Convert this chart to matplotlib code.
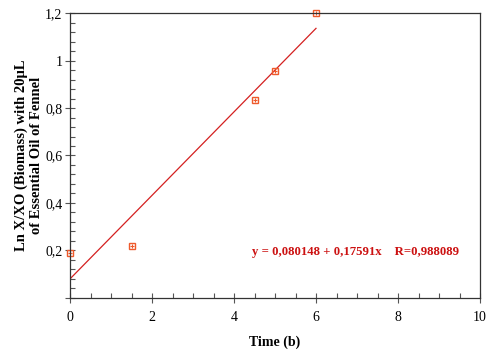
import numpy as np
import matplotlib.pyplot as plt
from matplotlib.ticker import MultipleLocator, FuncFormatter

plt.rcParams['font.family'] = ['Liberation Serif', 'DejaVu Serif']

time = [0, 1.5, 4.5, 5, 6]
ln_ratio = [0.19, 0.218, 0.833, 0.957, 1.2]
intercept = 0.080148
slope = 0.17591
fit_x = np.array([0, 6])

fig = plt.figure(figsize=(5, 3.53), dpi=100)
ax = fig.add_axes([0.14, 0.156, 0.82, 0.807])

ax.plot(fit_x, intercept + slope * fit_x, color='#d42020', linewidth=0.9)
ax.plot(time, ln_ratio, linestyle='none', marker='s', markersize=4.5,
        markerfacecolor='none', markeredgecolor='#ee5a2c', markeredgewidth=1.0, clip_on=False)
ax.plot(time, ln_ratio, linestyle='none', marker='+', markersize=3.5,
        markeredgecolor='#ee5a2c', markeredgewidth=0.8, clip_on=False)

ax.set_xlim(0, 10)
ax.set_ylim(0, 1.2)
ax.xaxis.set_major_locator(MultipleLocator(2))
ax.xaxis.set_minor_locator(MultipleLocator(0.5))
ax.yaxis.set_major_locator(MultipleLocator(0.2))
ax.yaxis.set_minor_locator(MultipleLocator(0.04))

def comma(v, pos):
    return ('%g' % round(v, 2)).replace('.', ',')

ax.xaxis.set_major_formatter(FuncFormatter(comma))
ax.yaxis.set_major_formatter(FuncFormatter(lambda v, p: '' if abs(v) < 1e-9 else comma(v, p)))

ax.tick_params(which='major', direction='inout', length=7, width=0.8, color='#555555',
               labelsize=10)
ax.tick_params(axis='x', which='major', pad=6)
ax.tick_params(axis='y', which='major', pad=2)
ax.tick_params(which='minor', direction='in', length=3.5, width=0.8, color='#555555')
ax.tick_params(top=False, right=False, which='both')
for side in ax.spines:
    ax.spines[side].set_color('#333333')
    ax.spines[side].set_linewidth(0.9)

ax.set_xlabel('Time (b)', fontsize=10, fontweight='bold', labelpad=8)
ax.set_ylabel('Ln X/XO (Biomass) with 20\u03bcL\nof Essential Oil of Fennel',
              fontsize=10.5, fontweight='bold', linespacing=1.15)
ax.yaxis.set_label_coords(-0.066, 0.5)

ax.text(0.445, 0.16, 'y = 0,080148 + 0,17591x    R=0,988089', transform=ax.transAxes,
        color='#cc1111', fontsize=9.2, fontweight='bold', ha='left', va='center')

fig.savefig('out.png', dpi=100)
